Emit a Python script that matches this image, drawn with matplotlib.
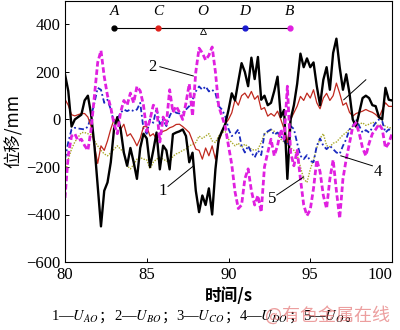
import numpy as np
import matplotlib
matplotlib.use("Agg")
import matplotlib.pyplot as plt

plt.rcParams['font.family'] = ['Liberation Serif', 'Noto Sans CJK SC']
plt.rcParams['mathtext.fontset'] = 'stix'

# time grid, 0.2 s step
t = np.arange(0, 101) * 0.2 + 80

# 1 - U_AO (black)
u_ao = [190, 120, -30, 0, 10, 20, 80, 100, 20, -110,
        -280, -450, -300, -265, -180, -40, 10, -40, -140, -195,
        -120, -180, -250, -120, -60, -80, -200, -130, -55, -210,
        -110, -130, -210, -62, -55, -50, -42, -70, -180, -140,
        -300, -390, -320, -360, -290, -400, -210, -83, -50, -20,
        40, 110, 80, 160, 237, 200, 140, 260, 170, 263,
        83, 100, 60, 70, 120, 180, 10, 40, -250, 0,
        60, 150, 277, 220, 257, 220, 240, 140, 60, 167,
        220, 125, 280, 340, 220, 125, 190, 110, 0, -30,
        30, 90, 100, 90, 60, 56, 10, 0, 133, 83, 80]

# 2 - U_BO (magenta)
u_bo = [-330, -150, -70, -60, -90, -83, -110, -130, -40, 100,
        240, 290, 180, 100, 50, -20, -60, 30, 80, 60,
        111, 70, 139, 120, 60, -50, 0, 60, 50, -95,
        10, -20, 125, 30, 56, 30, 0, 70, 150, 14,
        200, 300, 280, 250, 270, 305, 200, 56, 14, -30,
        -111, -190, -305, -375, -360, -250, -208, -300, -360, -320,
        -390, -200, -139, -83, -153, -110, -42, -83, 140, -139,
        -195, -130, -250, -360, -405, -380, -290, -170, -220, -320,
        -375, -250, -170, -300, -417, -250, -167, -100, -30, -14,
        -60, -120, -153, -100, -60, -42, -20, -40, -120, -100, -60]

# 3 - U_CO (red)
u_co = [85, 60, 20, 15, 20, 25, 25, 10, -30, -110,
        -185, -111, -130, -90, -40, 0, -10, -42, -20, -70,
        -60, -83, -111, -80, -30, -30, -70, -60, -83, -60,
        -50, -45, -35, -30, -21, -20, -30, -42, -55, -90,
        -125, -130, -167, -120, -153, -111, -167, -95, -55, -20,
        0, 28, 83, 60, 100, 111, 90, 118, 85, 100,
        42, 50, 14, 25, 14, 35, 0, -40, -97, 0,
        28, 56, 97, 80, 111, 90, 125, 70, 45, 90,
        110, 80, 100, 153, 110, 60, 70, 30, 14, 25,
        30, 35, 42, 35, 30, 21, 7, 40, 70, 55, 55]

# 4 - U_DO (blue)
u_do = [-167, -95, -42, -35, -38, -40, -42, -30, 14, 70,
        133, 125, 70, 83, 42, -14, 0, 28, 42, 35,
        42, 35, 42, 70, -40, -60, 0, -14, 49, -20,
        0, -28, 14, 42, 28, 25, 28, 42, 56, 83,
        118, 139, 125, 139, 118, 125, 111, 56, 42, 14,
        -40, -70, -60, -42, -111, -139, -111, -139, -160, -130,
        -150, -60, -50, -42, -65, -55, -70, -90, -111, -28,
        -40, -100, -153, -167, -150, -175, -180, -111, -80, -111,
        -125, -111, -125, -139, -145, -111, -83, -42, -28, 0,
        -28, -55, -45, -55, -35, -14, 0, -7, -55, -42, -45]

# 5 - U_O (olive)
u_o = [-236, -167, -125, -95, -75, -55, -55, -60, -65, -90,
       -111, -130, -145, -153, -140, -125, -111, -125, -139, -195,
       -208, -190, -167, -160, -167, -170, -208, -180, -167, -160,
       -167, -175, -180, -155, -145, -139, -130, -125, -111, -105,
       -97, -70, -80, -70, -60, -90, -97, -70, -55, -50,
       -83, -97, -111, -100, -118, -104, -115, -125, -130, -125,
       -97, -60, -55, -42, -50, -60, -83, -95, -111, -120,
       -130, -150, -200, -250, -265, -210, -170, -120, -80, -60,
       -110, -115, -100, -95, -80, -65, -55, -42, -28, -14,
       -20, -14, -25, -20, -12, -15, -28, -20, -28, -35, -35]

# schematic of measuring points on top
pt_names = ['A', 'C', 'O', 'D', 'B']
pt_x = [83.0, 85.7, 88.45, 91.0, 93.75]
pt_colors = ['black', '#e0201a', 'white', '#1a1ad0', '#e020e0']

# caption pieces
cap_parts = ['1—$U_{AO}$', '；', '2—$U_{BO}$', '；', '3—$U_{CO}$', '；',
             '4—$U_{DO}$', '；', '5—$U_{O}$', '。']

fig = plt.figure(figsize=(4, 3.3), dpi=100)
ax = fig.add_axes([0.1625, 0.206, 0.8175, 0.792])

ax.plot(t, u_o, color='#a8a828', lw=1.0, ls=(0, (1, 1)))
ax.plot(t, u_do, color='#1a2ac0', lw=1.3, ls=(0, (3, 1.5, 1, 1.5)))
ax.plot(t, u_co, color='#c0281e', lw=0.9)
ax.plot(t, u_ao, color='black', lw=1.7)
ax.plot(t, u_bo, color='#e020e0', lw=2.0, ls=(0, (2, 1)))

# schematic
ax.plot([pt_x[0], pt_x[-1]], [387, 387], color='black', lw=0.8)
for name, px, c in zip(pt_names, pt_x, pt_colors):
    if name == 'O':
        ax.plot(px, 372, marker='^', ms=4, mfc='white', mec='black', mew=0.6)
    else:
        ax.plot(px, 387, marker='o', ms=3.5, color=c)
    ax.text(px, 425, name, ha='center', va='bottom', fontsize=11, style='italic')

# leader lines and labels
ax.plot([85.8, 87.85], [222, 183], color='black', lw=0.7)
ax.text(85.6, 222, '2', ha='right', va='center', fontsize=12)
ax.plot([86.3, 87.85], [-282, -196], color='black', lw=0.7)
ax.text(86.2, -300, '1', ha='right', va='center', fontsize=12)
ax.plot([97.05, 98.4], [83, 167], color='black', lw=0.7)
ax.plot([96.87, 98.8], [-153, -195], color='black', lw=0.7)
ax.text(98.9, -220, '4', ha='left', va='center', fontsize=12)
ax.plot([92.95, 94.6], [-318, -242], color='black', lw=0.7)
ax.text(92.9, -335, '5', ha='right', va='center', fontsize=12)

ax.set_xlim(80, 100)
ax.set_ylim(-600, 500)
ax.set_xticks([80, 85, 90, 95, 100])
ax.set_yticks([-600, -400, -200, 0, 200, 400])
ax.set_yticklabels(['\u2212600', '\u2212400', '\u2212200', '0', '200', '400'])
ax.tick_params(direction='in', labelsize=12, length=3, width=0.7)
ax.get_xticklabels()[-1].set_horizontalalignment('right')
for s in ax.spines.values():
    s.set_linewidth(0.8)

ax.set_ylabel('位移/mm', fontsize=12.5, family=['Noto Sans CJK SC'], labelpad=2)
ax.set_xlabel('时间/s', fontsize=12, family=['Noto Sans CJK SC'], fontweight='bold', labelpad=3)

# caption, laid out piece by piece on one baseline
renderer = fig.canvas.get_renderer()
x = 0.128
for part in cap_parts:
    if part in ('；', '。'):
        fam = ['Noto Sans CJK SC']
    else:
        fam = ['Liberation Serif']
    txt = fig.text(x, 0.027, part, ha='left', va='baseline', fontsize=10.5, family=fam)
    bb = txt.get_window_extent(renderer)
    x = bb.x1 / fig.bbox.width

fig.text(0.975, 0.045, '@有色金属在线', ha='right', va='center', fontsize=13,
         color='#e06060', alpha=0.6, family=['Noto Sans CJK SC'])

fig.savefig('out.png', dpi=100)
